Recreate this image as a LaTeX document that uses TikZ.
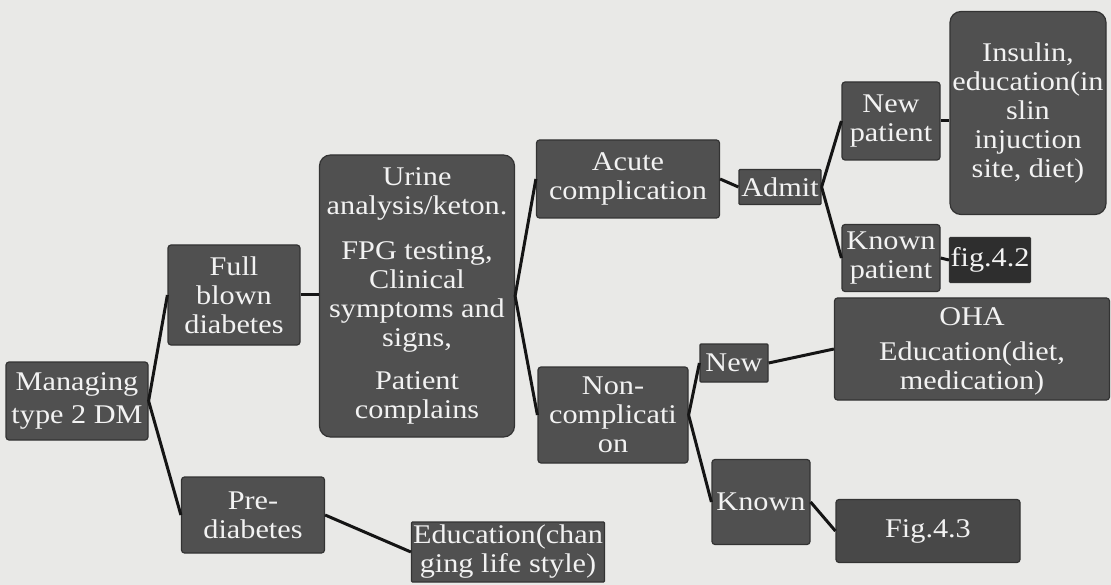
\documentclass[tikz,border=0pt]{standalone}
\usepackage{fontspec}
\setmainfont[FakeStretch=1.12]{Liberation Serif}
\definecolor{paper}{HTML}{E9E9E7}
\definecolor{boxfill}{HTML}{505050}
\definecolor{boxline}{HTML}{333333}
\definecolor{boxtext}{HTML}{F2F2F2}
\definecolor{linkcol}{HTML}{151515}
\tikzset{
  box/.style={draw=boxline, line width=1.2pt, fill=boxfill, text=boxtext, rounded corners=3pt,
    align=center, inner sep=1pt, font=\fontsize{27}{29}\selectfont},
  bigbox/.style={box, rounded corners=11pt},
  link/.style={draw=linkcol, line width=3pt}
}
\begin{document}
\begin{tikzpicture}[x=1pt,y=-1pt]
            \useasboundingbox[fill=paper] (0,0) rectangle (1111,585);
            \node[box, minimum width=142pt, minimum height=78pt] (dm) at (77,401) {Managing\\[4pt]type 2 DM};
            \node[box, minimum width=132pt, minimum height=100pt] (full) at (234,295) {Full\\blown\\diabetes};
            \node[box, minimum width=143pt, minimum height=76pt] (pre) at (253,515) {Pre-\\diabetes};
            \node[box, minimum width=193pt, minimum height=60pt, rounded corners=1pt] (edu) at (508,552) {Education(chan\\ging life style)};
            \node[bigbox, minimum width=195pt, minimum height=282pt] (urine) at (417,296) {Urine\\analysis/keton.\\[16pt]FPG testing,\\Clinical\\symptoms and\\signs,\\[14pt]Patient\\complains};
            \node[box, minimum width=183pt, minimum height=78pt] (acute) at (628,179) {Acute\\complication};
            \node[box, minimum width=150pt, minimum height=96pt] (noncomp) at (613,415) {Non-\\complicati\\on};
            \node[box, minimum width=82pt, minimum height=35pt, rounded corners=1pt] (admit) at (780,187) {Admit};
            \node[box, minimum width=98pt, minimum height=78pt] (newpat) at (891,121) {New\\patient};
            \node[bigbox, minimum width=156pt, minimum height=203pt] (insulin) at (1028,113) {Insulin,\\education(in\\slin\\injuction\\site, diet)};
            \node[box, minimum width=98pt, minimum height=67pt] (knownpat) at (891,258) {Known\\patient};
            \node[box, minimum width=70pt, minimum height=45pt, fill=boxline!90!black, rounded corners=1pt] (fig42) at (990,260) {fig.4.2};
            \node[box, minimum width=275pt, minimum height=102pt, text depth=0pt] (oha) at (972,349) {OHA\\[6pt]Education(diet,\\medication)};
            \node[box, minimum width=68pt, minimum height=38pt, rounded corners=1pt] (new) at (734,363) {New};
            \node[box, minimum width=98pt, minimum height=85pt] (known) at (761,502) {Known};
            \node[box, minimum width=184pt, minimum height=63pt, fill=boxfill!90!black] (fig43) at (928,531) {Fig.4.3};
            \draw[link] (dm.east) -- (full.west);
            \draw[link] (dm.east) -- (pre.west);
            \draw[link] (full.east) -- (urine.west |- full.east);
            \draw[link] (pre.east) -- (edu.west);
            \draw[link] (urine.east) -- (acute.west);
            \draw[link] (urine.east) -- (noncomp.west);
            \draw[link] (acute.east) -- (admit.west);
            \draw[link] (admit.east) -- (newpat.west);
            \draw[link] (admit.east) -- (knownpat.west);
            \draw[link] (newpat.east) -- (insulin.west |- newpat.east);
            \draw[link] (knownpat.east) -- (fig42.west);
            \draw[link] (noncomp.east) -- (new.west);
            \draw[link] (noncomp.east) -- (known.west);
            \draw[link] (new.east) -- (oha.west);
            \draw[link] (known.east) -- (fig43.west);
        \end{tikzpicture}
\end{document}
